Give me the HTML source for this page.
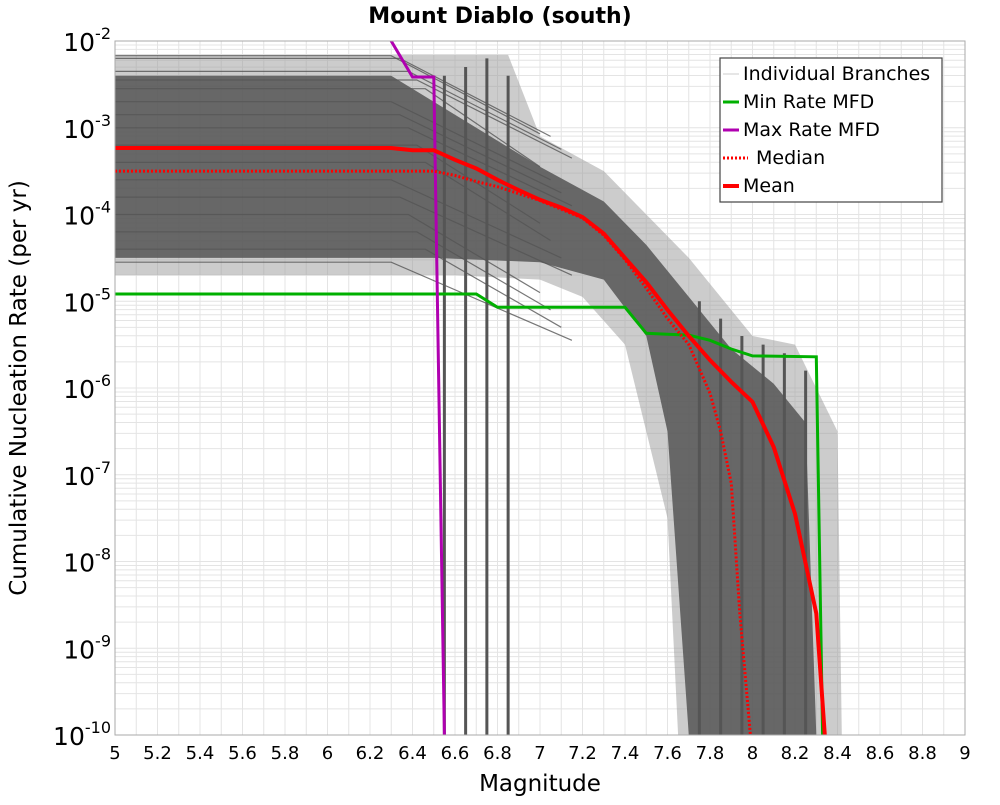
<!DOCTYPE html>
<html><head><meta charset="utf-8"><style>
body{margin:0;background:#fff;font-family:"Liberation Sans","DejaVu Sans",sans-serif}
</style></head><body>
<svg id="chart" width="1000" height="800" xmlns="http://www.w3.org/2000/svg" font-family="DejaVu Sans, Liberation Sans, sans-serif">
<rect width="1000" height="800" fill="#fff"/>
<text x="500" y="23" text-anchor="middle" font-size="22" font-weight="bold">Mount Diablo (south)</text>
<g id="grid"></g>
<g id="band"></g>
<g id="series"></g>
<g id="axes"></g>
<text x="540" y="791" text-anchor="middle" font-size="23">Magnitude</text>
<text transform="translate(26,388) rotate(-90)" text-anchor="middle" font-size="23">Cumulative Nucleation Rate (per yr)</text>
<g>
<rect x="720" y="58" width="222" height="144" fill="#fff" stroke="#444" stroke-width="1.2"/>
<line x1="723" y1="74" x2="739" y2="74" stroke="#ccc" stroke-width="1"/>
<text x="743" y="80" font-size="19">Individual Branches</text>
<line x1="723" y1="102" x2="739" y2="102" stroke="#00b000" stroke-width="3"/>
<text x="743" y="108" font-size="19">Min Rate MFD</text>
<line x1="723" y1="130" x2="739" y2="130" stroke="#b000b0" stroke-width="3"/>
<text x="743" y="136" font-size="19">Max Rate MFD</text>
<line x1="723" y1="158" x2="748" y2="158" stroke="#f00" stroke-width="3" stroke-dasharray="2,2"/>
<text x="756" y="164" font-size="19">Median</text>
<line x1="723" y1="186" x2="739" y2="186" stroke="#f00" stroke-width="4"/>
<text x="743" y="192" font-size="19">Mean</text>
</g>
</svg>
<script>
// data: [magnitude, log10(rate)]
const meanM=[5,6.3,6.4,6.5,6.6,6.7,6.8,6.9,7.0,7.1,7.2,7.3,7.4,7.5,7.6,7.7,7.8,7.9,8.0,8.1,8.2,8.3,8.34];
const meanV=[-3.233,-3.233,-3.26,-3.26,-3.37,-3.47,-3.6,-3.72,-3.83,-3.92,-4.03,-4.22,-4.5,-4.78,-5.1,-5.4,-5.68,-5.93,-6.16,-6.68,-7.45,-8.6,-10];
const medM=[5,6.5,6.6,6.7,6.8,7.0,7.2,7.3,7.4,7.5,7.6,7.7,7.8,7.85,7.9,7.94,7.99];
const medV=[-3.5,-3.5,-3.55,-3.62,-3.68,-3.84,-4.04,-4.24,-4.52,-4.85,-5.2,-5.5,-6.06,-6.5,-7.1,-8.6,-10];
const minM=[5,6.7,6.8,7.4,7.5,7.6,7.7,7.8,7.9,8.0,8.3,8.33];
const minV=[-4.916,-4.916,-5.07,-5.07,-5.37,-5.38,-5.39,-5.45,-5.55,-5.63,-5.64,-10];
const maxM=[5,6.2,6.3,6.4,6.5,6.55];
const maxV=[-1.3,-1.3,-2.0,-2.415,-2.415,-10];
const envUpM=[5,6.3,6.85,7.0,7.3,7.5,7.7,8.0,8.2,8.4,8.42];
const envUpV=[-2.16,-2.16,-2.16,-3.1,-3.5,-4.0,-4.5,-5.4,-5.5,-6.5,-10];
const envLoM=[5,6.6,7.0,7.2,7.4,7.6,7.65];
const envLoV=[-4.7,-4.7,-4.75,-4.95,-5.5,-7.5,-10];
const coreUpM=[5,6.3,6.6,7.0,7.3,7.5,7.7,7.9,8.1,8.25,8.3];
const coreUpV=[-2.4,-2.4,-2.85,-3.45,-3.85,-4.35,-4.95,-5.55,-5.95,-6.4,-10];
const coreLoM=[5,6.5,7.0,7.3,7.5,7.6,7.7];
const coreLoV=[-4.5,-4.5,-4.55,-4.75,-5.4,-6.5,-10];
const dropM=[6.55,6.65,6.75,6.85,7.75,7.85,7.95,8.05,8.15,8.25];
const dropTop=[-2.4,-2.3,-2.2,-2.4,-5.0,-5.2,-5.4,-5.5,-5.6,-5.8];
const flatV=[-2.17,-2.2,-2.35,-2.45,-2.55,-2.7,-2.85,-3.0,-3.2,-3.4,-3.6,-3.8,-4.0,-4.2,-4.4,-4.55];
const xTicks=[5,5.2,5.4,5.6,5.8,6,6.2,6.4,6.6,6.8,7,7.2,7.4,7.6,7.8,8,8.2,8.4,8.6,8.8,9];
const yTicks=[-2,-3,-4,-5,-6,-7,-8,-9,-10];

const NS="http://www.w3.org/2000/svg";
const X0=115,X1=965,Y0=41,Y1=735;
const xs=m=>X0+(m-5)*(X1-X0)/4;
const ys=v=>Y0+(-2-v)*(Y1-Y0)/8;
function mk(tag,parent,attrs){const e=document.createElementNS(NS,tag);for(const k in attrs)e.setAttribute(k,attrs[k]);parent.appendChild(e);return e;}
const pts=(M,V)=>M.map((m,i)=>xs(m).toFixed(1)+","+ys(V[i]).toFixed(1)).join(" ");

const grid=document.getElementById('grid');
for(let m=5;m<=9.001;m+=0.1){const l=mk('line',grid,{x1:xs(m),x2:xs(m),y1:Y0,y2:Y1,stroke:'#e4e4e4','stroke-width':1});

}
for(let d=-10;d<-2;d++){for(let k=1;k<10;k++){const v=d+Math.log10(k);const l=mk('line',grid,{x1:X0,x2:X1,y1:ys(v),y2:ys(v),stroke:'#e4e4e4','stroke-width':1});

}}

const clip=mk('clipPath',document.getElementById('chart'),{id:'pc'});
mk('rect',clip,{x:X0,y:Y0,width:X1-X0,height:Y1-Y0});
const band=document.getElementById('band');band.setAttribute('clip-path','url(#pc)');
const env=mk('polygon',band,{points:pts(envUpM,envUpV)+" "+pts(envLoM.slice().reverse(),envLoV.slice().reverse()),fill:'#999','fill-opacity':0.5});


for(let i=0;i<flatV.length;i++){const l=mk('polyline',band,{points:pts([5,6.3+0.04*(i%5),7.0+0.05*(i%4)],[flatV[i],flatV[i],flatV[i]-0.9]),fill:'none',stroke:'#555','stroke-width':1.2,'stroke-opacity':0.8});

}
const core=mk('polygon',band,{points:pts(coreUpM,coreUpV)+" "+pts(coreLoM.slice().reverse(),coreLoV.slice().reverse()),fill:'#555','fill-opacity':0.85});


for(let i=0;i<dropM.length;i++){const l=mk('line',band,{x1:xs(dropM[i]),x2:xs(dropM[i]),y1:ys(dropTop[i]),y2:Y1,stroke:'#555','stroke-width':3});

}

const ser=document.getElementById('series');ser.setAttribute('clip-path','url(#pc)');
const s1=mk('polyline',ser,{points:pts(minM,minV),fill:'none',stroke:'#00b000','stroke-width':3});


const s2=mk('polyline',ser,{points:pts(maxM,maxV),fill:'none',stroke:'#b000b0','stroke-width':3});


const s3=mk('polyline',ser,{points:pts(medM,medV),fill:'none',stroke:'#f00','stroke-width':3,'stroke-dasharray':'2,2'});


const s4=mk('polyline',ser,{points:pts(meanM,meanV),fill:'none',stroke:'#f00','stroke-width':4});



const ax=document.getElementById('axes');
const fr=mk('rect',ax,{x:X0,y:Y0,width:X1-X0,height:Y1-Y0,fill:'none',stroke:'#aaa','stroke-width':1});


xTicks.forEach(m=>{const t=mk('text',ax,{x:xs(m),y:Y1+24,'text-anchor':'middle','font-size':18});t.textContent=String(m);

});
yTicks.forEach(v=>{const t=mk('text',ax,{x:X0-4,y:ys(v)+10,'text-anchor':'end','font-size':25});


t.appendChild(document.createTextNode('10'));
const s=mk('tspan',t,{dy:-12,'font-size':16});s.textContent=String(v);});
</script>
</body></html>
